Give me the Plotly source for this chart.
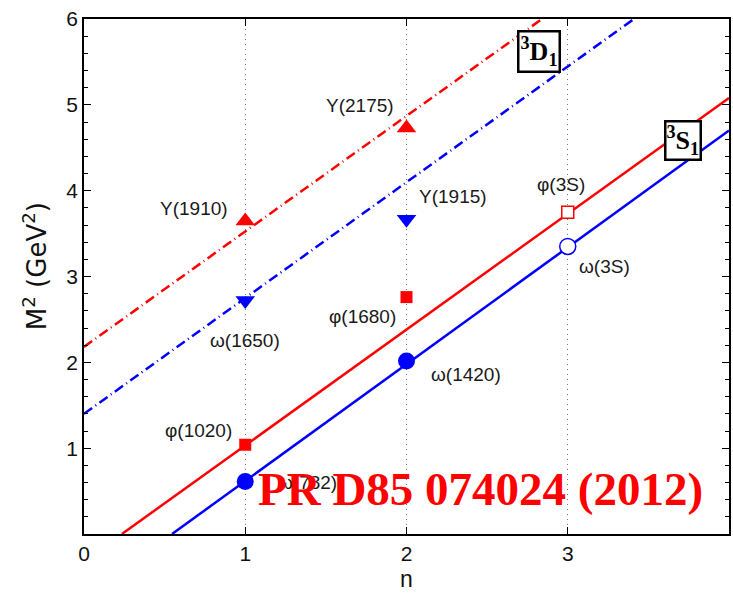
import plotly.graph_objects as go

# Regge trajectories (endpoints of the straight fits), M^2 in GeV^2 vs radial number n
s_phi_n = [0.235, 4.0]
s_phi_m2 = [0.0, 5.08]
s_omega_n = [0.546, 4.0]
s_omega_m2 = [0.0, 4.70]
d_phi_n = [0.0, 2.84]
d_phi_m2 = [2.18, 6.0]
d_omega_n = [0.0, 3.41]
d_omega_m2 = [1.40, 6.0]

# Measured states
y_states_n = [1, 2]
y_states_m2 = [3.648, 4.73]
y_states_names = ["Y(1910)", "Y(2175)"]

omega_d_n = [1, 2]
omega_d_m2 = [2.72, 3.667]
omega_d_names = ["ω(1650)", "Y(1915)"]

phi_s_n = [1, 2]
phi_s_m2 = [1.04, 2.76]
phi_s_names = ["φ(1020)", "φ(1680)"]

omega_s_n = [1, 2]
omega_s_m2 = [0.611, 2.016]
omega_s_names = ["ω(782)", "ω(1420)"]

# Predicted 3S states
pred_phi_n = [3]
pred_phi_m2 = [3.75]
pred_omega_n = [3]
pred_omega_m2 = [3.35]

# Label positions (n, M^2)
label_text = ["Y(1910)", "ω(1650)", "Y(2175)", "Y(1915)", "φ(1680)",
              "ω(1420)", "φ(1020)", "ω(782)", "φ(3S)", "ω(3S)"]
label_n = [0.683, 1.0, 1.71, 2.29, 1.73, 2.37, 0.71, 1.385, 2.96, 3.23]
label_m2 = [3.79, 2.26, 4.99, 3.93, 2.53, 1.86, 1.21, 0.60, 4.07, 3.12]

RED = "#ff0000"
BLUE = "#0000ff"
DASHDOT = "10px,4px,1px,4px"

fig = go.Figure()

for xs, ys, col, dash in [
    (d_phi_n, d_phi_m2, RED, DASHDOT),
    (d_omega_n, d_omega_m2, BLUE, DASHDOT),
    (s_phi_n, s_phi_m2, RED, "solid"),
    (s_omega_n, s_omega_m2, BLUE, "solid"),
]:
    fig.add_trace(go.Scatter(x=xs, y=ys, mode="lines",
                             line=dict(color=col, width=2.5, dash=dash),
                             hoverinfo="skip", showlegend=False))

fig.add_trace(go.Scatter(x=y_states_n, y=y_states_m2, mode="markers",
                         text=y_states_names,
                         marker=dict(symbol="triangle-up", size=17, color=RED),
                         showlegend=False))
fig.add_trace(go.Scatter(x=omega_d_n, y=omega_d_m2, mode="markers",
                         text=omega_d_names,
                         marker=dict(symbol="triangle-down", size=17, color=BLUE),
                         showlegend=False))
fig.add_trace(go.Scatter(x=phi_s_n, y=phi_s_m2, mode="markers",
                         text=phi_s_names,
                         marker=dict(symbol="square", size=12, color=RED),
                         showlegend=False))
fig.add_trace(go.Scatter(x=omega_s_n, y=omega_s_m2, mode="markers",
                         text=omega_s_names,
                         marker=dict(symbol="circle", size=17, color=BLUE),
                         showlegend=False))
fig.add_trace(go.Scatter(x=pred_phi_n, y=pred_phi_m2, mode="markers",
                         marker=dict(symbol="square", size=12, color="white",
                                     line=dict(color=RED, width=1.5)),
                         showlegend=False))
fig.add_trace(go.Scatter(x=pred_omega_n, y=pred_omega_m2, mode="markers",
                         marker=dict(symbol="circle", size=16, color="white",
                                     line=dict(color=BLUE, width=1.5)),
                         showlegend=False))

annotations = []
for t, xn, ym in zip(label_text, label_n, label_m2):
    annotations.append(dict(x=xn, y=ym, text=t, showarrow=False,
                            font=dict(family="Liberation Sans", size=19, color="#1a1a1a")))

# Multiplet boxes
annotations.append(dict(x=2.82, y=5.62, text="<b><sup>3</sup>D<sub>1</sub></b>",
                        showarrow=False, bgcolor="white", bordercolor="black",
                        borderwidth=2.5, borderpad=1,
                        font=dict(family="Liberation Serif", size=26, color="black")))
annotations.append(dict(x=3.715, y=4.58, text="<b><sup>3</sup>S<sub>1</sub></b>",
                        showarrow=False, bgcolor="white", bordercolor="black",
                        borderwidth=2.5, borderpad=0,
                        font=dict(family="Liberation Serif", size=26, color="black")))

# Reference stamp
annotations.append(dict(x=2.46, y=0.53, text="<b>PR D85 074024 (2012)</b>",
                        showarrow=False,
                        font=dict(family="Liberation Serif", size=47, color=RED)))

# Axis titles
annotations.append(dict(xref="paper", yref="paper", x=0.5, y=-0.088,
                        text="n", showarrow=False, yanchor="middle",
                        font=dict(family="Liberation Sans", size=23, color="#111")))
annotations.append(dict(xref="paper", yref="paper", x=-0.076, y=0.52,
                        text="M<sup>2</sup> (GeV<sup>2</sup>)", showarrow=False,
                        textangle=-90, xanchor="center",
                        font=dict(family="DejaVu Sans", size=26, color="#111")))

fig.update_layout(
    width=733, height=594,
    margin=dict(l=84, r=2, t=19, b=60),
    paper_bgcolor="white", plot_bgcolor="white",
    annotations=annotations,
    font=dict(family="Liberation Sans", size=21, color="#111"),
)

fig.update_xaxes(
    range=[0, 4], tickvals=[0, 1, 2, 3], ticktext=["0", "1", "2", "3"],
    showline=True, linecolor="black", linewidth=1.5, mirror="allticks",
    ticks="inside", ticklen=7, tickwidth=1, tickcolor="black",
    showgrid=True, gridcolor="#777", griddash="1px,4px", gridwidth=1,
    zeroline=False,
)
fig.update_yaxes(
    range=[0, 6], tick0=0, dtick=1, labelalias={"0": " "},
    showline=True, linecolor="black", linewidth=1.5, mirror="allticks",
    ticks="inside", ticklen=7, tickwidth=1, tickcolor="black",
    minor=dict(dtick=0.2, ticks="inside", ticklen=4, tickcolor="black", showgrid=False),
    showgrid=False, zeroline=False,
)

fig.write_html("out.html")
